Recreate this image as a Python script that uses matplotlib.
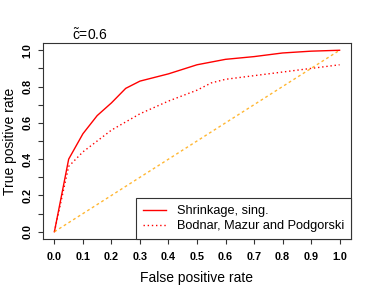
import numpy as np
import matplotlib
matplotlib.use("Agg")
import matplotlib.pyplot as plt

# ROC curves
fpr_shrink = [0.0, 0.05, 0.1, 0.15, 0.2, 0.25, 0.3, 0.4, 0.5, 0.6, 0.7, 0.8, 0.9, 1.0]
tpr_shrink = [0.0, 0.40, 0.54, 0.64, 0.71, 0.79, 0.83, 0.87, 0.92, 0.95, 0.965, 0.985, 0.995, 1.0]

fpr_bmp = [0.0, 0.05, 0.1, 0.2, 0.3, 0.4, 0.5, 0.55, 0.6, 0.7, 0.8, 0.9, 1.0]
tpr_bmp = [0.0, 0.36, 0.44, 0.56, 0.65, 0.72, 0.78, 0.82, 0.84, 0.86, 0.88, 0.90, 0.92]

diag = [0.0, 1.0]
labels = ["Shrinkage, sing.", "Bodnar, Mazur and Podgorski"]
title = r"$\tilde{\mathrm{c}}$=0.6"

plt.rcParams["font.family"] = ["Liberation Sans", "DejaVu Sans"]
plt.rcParams["mathtext.fontset"] = "custom"
plt.rcParams["mathtext.rm"] = "Liberation Sans"

W, H = 374, 294
fig = plt.figure(figsize=(W / 100, H / 100), dpi=100)
ax = fig.add_axes([43 / W, (H - 239) / H, 308 / W, 196 / H])

ax.plot(fpr_shrink, tpr_shrink, color="red", lw=1.0, label=labels[0])
ax.plot(fpr_bmp, tpr_bmp, color="red", lw=1.0, linestyle=(0, (1, 2)), label=labels[1])
ax.plot(diag, diag, color="orange", lw=1.0, alpha=0.8, linestyle=(0, (2, 2)))

# R style 4% padding
ax.set_xlim(-0.04, 1.04)
ax.set_ylim(-0.04, 1.04)

ticks = np.round(np.arange(0, 1.01, 0.1), 1)
ax.set_xticks(ticks)
ax.set_xticklabels([f"{t:.1f}" for t in ticks], fontsize=7.8, fontweight="bold")
ax.set_yticks(ticks)
ax.set_yticklabels([f"{t:.1f}" if i % 2 == 0 else "" for i, t in enumerate(ticks)],
                   fontsize=7.8, fontweight="bold", rotation=90, va="center")
ax.tick_params(direction="out", length=3.6, width=0.8, color="#333333", pad=4)
ax.tick_params(axis="x", pad=6)

for s in ax.spines.values():
    s.set_color("#333333")
    s.set_linewidth(0.8)

ax.set_xlabel("False positive rate", fontsize=10, labelpad=6)
ax.set_ylabel("True positive rate", fontsize=10, labelpad=4)

fig.text(72 / W, 1 - 40 / H, title, fontsize=10, ha="left", va="baseline")

leg = ax.legend(loc="lower right", fontsize=9.2, frameon=True, fancybox=False,
                edgecolor="#333333", framealpha=1, borderaxespad=0,
                handlelength=1.8, handletextpad=0.85, labelspacing=0.2,
                borderpad=0.55)
leg.get_frame().set_linewidth(0.8)

fig.savefig("out.png", dpi=100)
